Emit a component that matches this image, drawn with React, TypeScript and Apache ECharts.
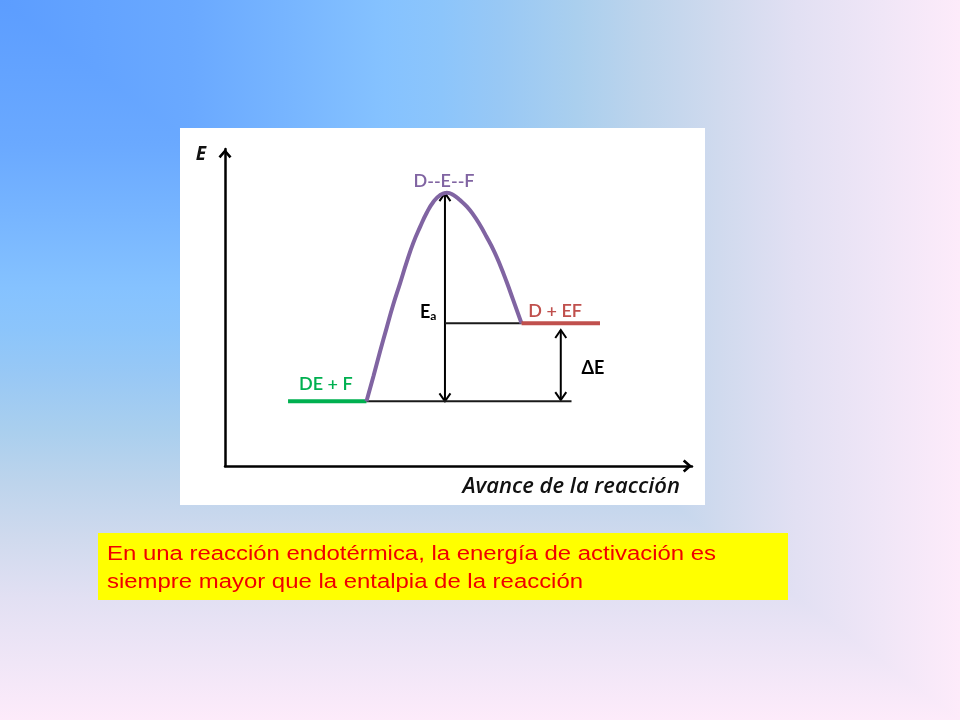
import { useEffect, useRef } from "react";
import * as echarts from "echarts";

// coordinates: reaction progress (0-100) vs energy (0-100)
const reactantLevel = 20.4;
const productLevel = 45.0;
const reactantStart = 13.5;
const barrierStart = 30.3;
const barrierEnd = 63.5;
const productEnd = 80.3;
const baselineEnd = 74.2;

// the purple hump (transition state curve)
const barrierX = [
  30.3, 31.8, 33.2, 34.6, 36.0, 37.5, 38.9, 40.3, 41.8, 43.2, 44.6, 46.0, 47.5,
  48.9, 50.3, 51.8, 53.2, 54.6, 56.0, 57.5, 58.9, 60.3, 61.7, 63.5,
];
const barrierY = [
  20.4, 28.4, 36.1, 43.5, 50.8, 57.7, 64.3, 70.3, 75.5, 79.9, 83.3, 85.4, 86.2,
  85.5, 83.9, 81.8, 79.2, 76.0, 72.3, 68.1, 63.4, 58.1, 52.4, 45.0,
];

// double arrows: x, bottom, top
const eaArrow = [47.1, 20.4, 86.1];
const deltaArrow = [71.9, 20.8, 42.9];

const labelNames = ["D--E--F", "DE + F", "D + EF", "{e|E}{s|a}", "ΔE"];
const labelX = [46.9, 21.6, 70.7, 43.5, 78.8];
const labelY = [90.2, 26.2, 49.2, 48.9, 31.2];
const labelColors = ["#8064a2", "#00b050", "#c0504d", "#000000", "#000000"];

const yAxisTitle = "E";
const xAxisTitle = "Avance de la reacción";
const noteLines = [
  "En una reacción endotérmica, la energía de activación es",
  "siempre mayor que la entalpia de la reacción",
];

const bgStops = [
  { offset: 0, color: "#5c9dff" },
  { offset: 0.2, color: "#6aa9ff" },
  { offset: 0.3, color: "#77b5ff" },
  { offset: 0.4, color: "#85c2ff" },
  { offset: 0.46, color: "#8cc5fb" },
  { offset: 0.52, color: "#98c8f5" },
  { offset: 0.6, color: "#aacfee" },
  { offset: 0.67, color: "#bdd4ec" },
  { offset: 0.75, color: "#d0daee" },
  { offset: 0.83, color: "#e2e0f3" },
  { offset: 0.92, color: "#f0e6f7" },
  { offset: 1, color: "#fdebfa" },
];

const chevron = "path://M6.5,0 L13,7.4 L11,9.2 L6.5,4 L2,9.2 L0,7.4 Z";
const labelFont = "Lato, 'Open Sans', sans-serif";
const titleFont = "'Open Sans', Lato, sans-serif";

export default function App() {
  const chartRef = useRef<HTMLDivElement | null>(null);

  useEffect(() => {
    if (!chartRef.current) return;
    const chart = echarts.init(chartRef.current, null, { renderer: "svg" });

    const axisLine = (offset: number) => ({
      show: true,
      onZero: false,
      symbol: ["none", chevron],
      symbolSize: [13, 9.2],
      symbolOffset: [0, offset],
      lineStyle: { color: "#000", width: 2.5 },
    });

    const option = {
      animation: false,
      grid: { left: 225, right: 268, top: 149, bottom: 254 },
      xAxis: {
        type: "value",
        min: 0,
        max: 100,
        axisLine: axisLine(-4.6),
        axisTick: { show: false },
        axisLabel: { show: false },
        splitLine: { show: false },
        name: xAxisTitle,
        nameLocation: "end",
        nameGap: -12,
        nameTextStyle: {
          fontFamily: titleFont,
          fontStyle: "italic",
          fontWeight: 600,
          fontSize: 22,
          color: "#111",
          align: "right",
          verticalAlign: "top",
          lineHeight: 35,
        },
      },
      yAxis: {
        type: "value",
        min: 0,
        max: 100,
        axisLine: axisLine(-4.6),
        axisTick: { show: false },
        axisLabel: { show: false },
        splitLine: { show: false },
        name: yAxisTitle,
        nameLocation: "end",
        nameGap: -4,
        nameTextStyle: {
          fontFamily: titleFont,
          fontStyle: "italic",
          fontWeight: "bold",
          fontSize: 19,
          color: "#111",
          align: "right",
          verticalAlign: "middle",
          padding: [0, 19, 0, 0],
        },
      },
      graphic: [
        {
          type: "rect",
          z: -20,
          silent: true,
          shape: { x: 0, y: 0, width: 960, height: 720 },
          style: { fill: new echarts.graphic.LinearGradient(0, 0, 1, 0, bgStops) },
        },
        {
          type: "polygon",
          z: -19,
          silent: true,
          shape: { points: [[0, 0], [960, 720], [0, 720]] },
          style: { fill: new echarts.graphic.LinearGradient(0, 0, 0, 1, bgStops) },
        },
        {
          type: "rect",
          z: -18,
          silent: true,
          shape: { x: 180, y: 128, width: 525, height: 377 },
          style: { fill: "#ffffff" },
        },
        {
          type: "rect",
          z: -18,
          silent: true,
          shape: { x: 98, y: 533, width: 690, height: 67 },
          style: { fill: "#ffff00" },
        },
        ...noteLines.map((line, i) => ({
          type: "text",
          z: -17,
          silent: true,
          x: 107,
          y: 553 + i * 28,
          scaleX: 1.14,
          style: {
            text: line,
            fill: "#f00000",
            fontFamily: "'Liberation Sans', Arial, sans-serif",
            fontSize: 21,
            verticalAlign: "middle",
          },
        })),
      ],
      series: [
        {
          type: "line",
          symbol: "none",
          lineStyle: { color: "#00b050", width: 4 },
          data: [
            [reactantStart, reactantLevel],
            [barrierStart, reactantLevel],
          ],
        },
        {
          type: "line",
          symbol: "none",
          lineStyle: { color: "#1a1a1a", width: 2 },
          data: [
            [barrierStart, reactantLevel],
            [baselineEnd, reactantLevel],
          ],
        },
        {
          type: "line",
          symbol: "none",
          lineStyle: { color: "#1a1a1a", width: 2 },
          data: [
            [eaArrow[0], productLevel],
            [barrierEnd, productLevel],
          ],
        },
        {
          type: "line",
          symbol: "none",
          smooth: 0.5,
          lineStyle: { color: "#8064a2", width: 4 },
          data: barrierX.map((x, i) => [x, barrierY[i]]),
        },
        {
          type: "line",
          symbol: "none",
          lineStyle: { color: "#c0504d", width: 4 },
          data: [
            [barrierEnd, productLevel],
            [productEnd, productLevel],
          ],
        },
        {
          type: "custom",
          encode: { x: 0, y: [1, 2] },
          data: [eaArrow, deltaArrow],
          renderItem: (_params: any, api: any) => {
            const x = api.value(0);
            const bottom = api.coord([x, api.value(1)]);
            const top = api.coord([x, api.value(2)]);
            const w = 5.5;
            const h = 8;
            const style = { stroke: "#000", lineWidth: 2, fill: "none" };
            return {
              type: "group",
              children: [
                {
                  type: "line",
                  shape: { x1: bottom[0], y1: bottom[1], x2: top[0], y2: top[1] },
                  style,
                },
                {
                  type: "polyline",
                  shape: {
                    points: [
                      [bottom[0] - w, bottom[1] - h],
                      [bottom[0], bottom[1]],
                      [bottom[0] + w, bottom[1] - h],
                    ],
                  },
                  style,
                },
                {
                  type: "polyline",
                  shape: {
                    points: [
                      [top[0] - w, top[1] + h],
                      [top[0], top[1]],
                      [top[0] + w, top[1] + h],
                    ],
                  },
                  style,
                },
              ],
            };
          },
        },
        {
          type: "scatter",
          symbolSize: 1,
          itemStyle: { color: "rgba(0,0,0,0)", opacity: 1 },
          silent: true,
          data: labelNames.map((name, i) => ({
            name,
            value: [labelX[i], labelY[i]],
            label: {
              color: labelColors[i],
              fontWeight: labelColors[i] === "#000000" ? "bold" : 600,
            },
          })),
          label: {
            show: true,
            position: "inside",
            formatter: "{b}",
            fontFamily: labelFont,
            fontSize: 18,
            rich: {
              e: { fontFamily: labelFont, fontSize: 18, fontWeight: "bold", color: "#000", lineHeight: 22 },
              s: {
                fontFamily: labelFont,
                fontSize: 12,
                fontWeight: "bold",
                color: "#000",
                lineHeight: 12,
                verticalAlign: "bottom",
              },
            },
          },
        },
      ],
    };

    chart.setOption(option as any);
    return () => chart.dispose();
  }, []);

  return (
    <div
      ref={chartRef}
      style={{ position: "fixed", left: 0, top: 0, width: 960, height: 720 }}
    />
  );
}
